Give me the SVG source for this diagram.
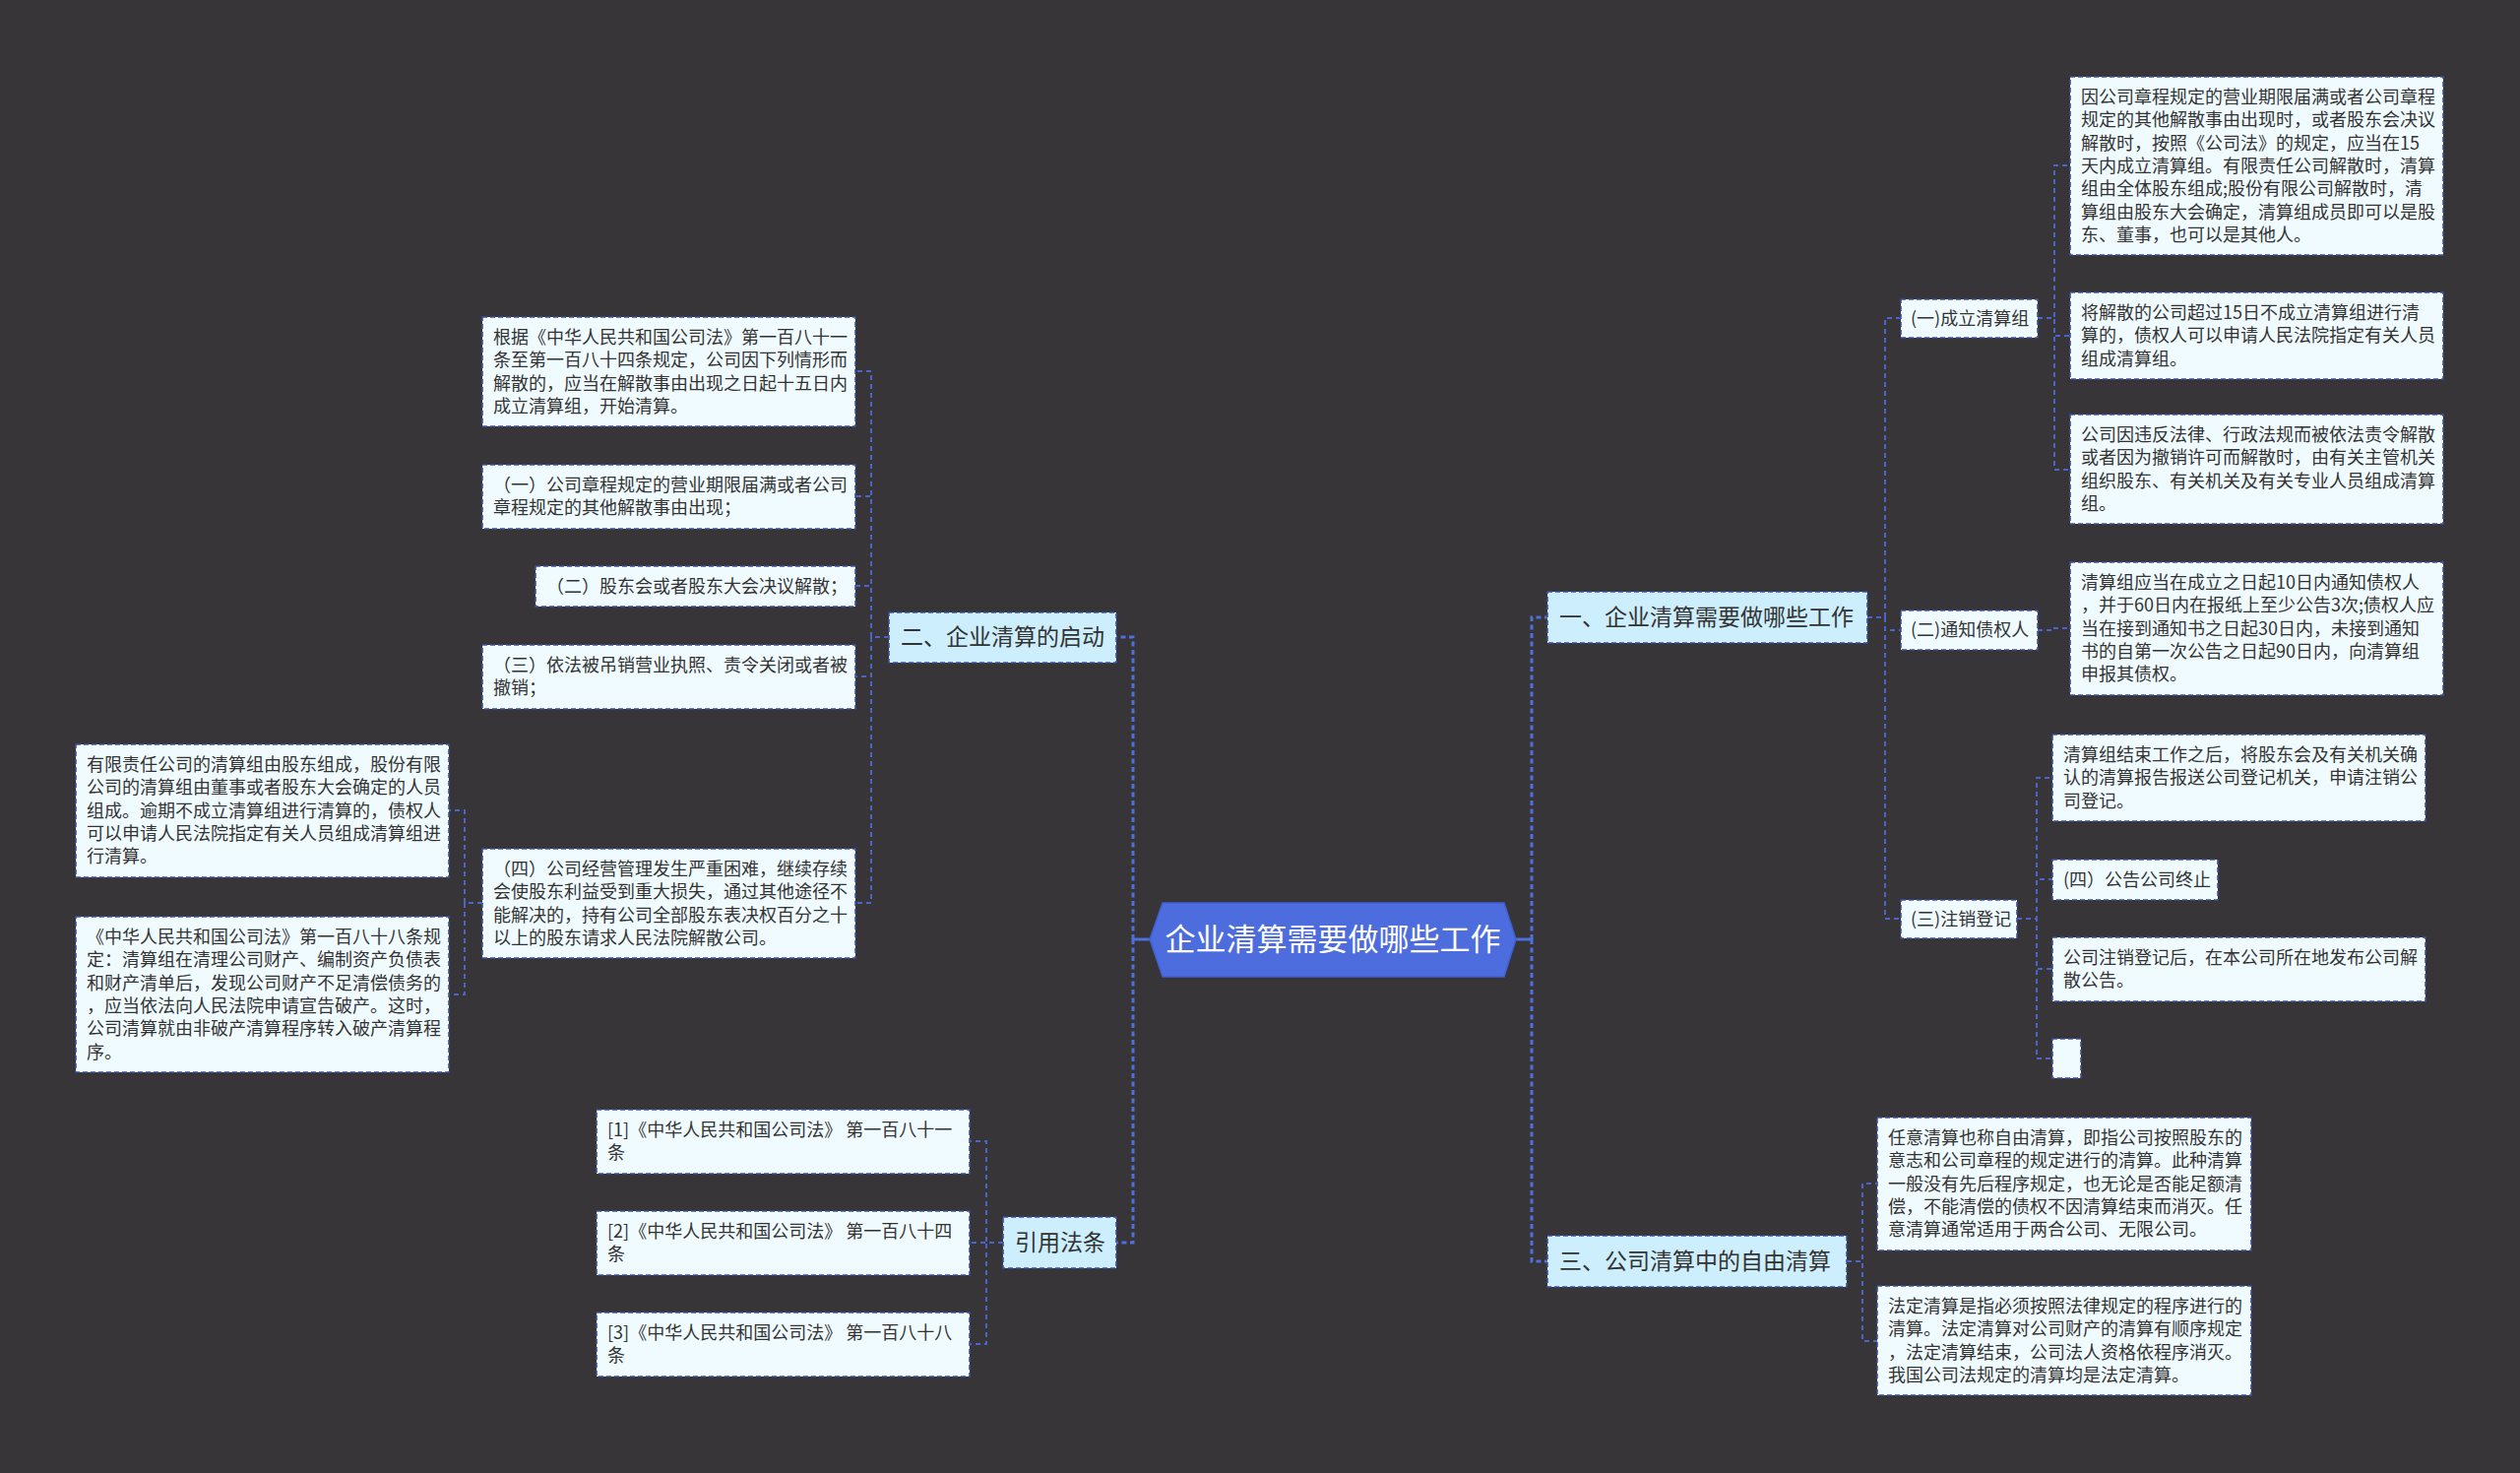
<svg xmlns="http://www.w3.org/2000/svg" width="2560" height="1496" viewBox="0 0 2560 1496">
<style>
.bg{fill:#373537}
.leaf{fill:#f0fbff;stroke:#3b4f9c;stroke-width:1.6;stroke-dasharray:5 3}
.l1{fill:#cdeefc;stroke:#3b4f9c;stroke-width:1.6;stroke-dasharray:5 3}
.c{fill:none;stroke:#4a64c8;stroke-width:2;stroke-dasharray:5 4}
.cm{fill:none;stroke:#4f70dc;stroke-width:3;stroke-dasharray:5 3.5}
text{font-family:"Noto Sans CJK SC","Noto Sans",sans-serif;fill:#333}
.t18{font-size:18px}
.t23{font-size:23px}
.tc{font-size:31px;fill:#ffffff}
</style>
<rect class="bg" x="0" y="0" width="2560" height="1496"/>

<g id="connectors">
<path d="M1540,954 H1556 M1168,954 H1151" stroke="#4f70dc" stroke-width="3" fill="none"/>
<path class="cm" d="M1556,954 V627 H1572"/>
<path class="cm" d="M1556,954 V1281 H1572"/>
<path class="cm" d="M1151,954 V647 H1134"/>
<path class="cm" d="M1151,954 V1262 H1134"/>
<path class="c" d="M1897,627 H1915 V323 H1931"/>
<path class="c" d="M1897,627 H1915 V640 H1931"/>
<path class="c" d="M1897,627 H1915 V933 H1931"/>
<path class="c" d="M2070,323 H2087 V168 H2103"/>
<path class="c" d="M2070,323 H2087 V341 H2103"/>
<path class="c" d="M2070,323 H2087 V477 H2103"/>
<path class="c" d="M2070,640 H2087 V638 H2103"/>
<path class="c" d="M2049,933 H2069 V790 H2085"/>
<path class="c" d="M2049,933 H2069 V893 H2085"/>
<path class="c" d="M2049,933 H2069 V984 H2085"/>
<path class="c" d="M2049,933 H2069 V1075 H2085"/>
<path class="c" d="M1876,1281 H1892 V1202 H1907"/>
<path class="c" d="M1876,1281 H1892 V1362 H1907"/>
<path class="c" d="M903,647 H885 V377 H869"/>
<path class="c" d="M903,647 H885 V504 H869"/>
<path class="c" d="M903,647 H885 V595 H869"/>
<path class="c" d="M903,647 H885 V687 H869"/>
<path class="c" d="M903,647 H885 V917 H869"/>
<path class="c" d="M490,917 H472 V823 H456"/>
<path class="c" d="M490,917 H472 V1010 H456"/>
<path class="c" d="M1019,1262 H1002 V1159 H985"/>
<path class="c" d="M1019,1262 H1002 V1262 H985"/>
<path class="c" d="M1019,1262 H1002 V1365 H985"/>
</g>

<g id="center">
<polygon points="1168,954 1181,917 1528,917 1540,954 1528,992 1181,992" fill="#4d6ddf" stroke="#3f5fd2" stroke-width="1.5"/>
<text class="tc" x="1354" y="965" text-anchor="middle">企业清算需要做哪些工作</text>
</g>

<g id="n1">
<rect class="l1" x="1572" y="601" width="325" height="52"/>
<text class="t23" x="1584" y="635">一、企业清算需要做哪些工作</text>
</g>
<g id="n3">
<rect class="l1" x="1572" y="1255" width="304" height="52"/>
<text class="t23" x="1584" y="1289">三、公司清算中的自由清算</text>
</g>
<g id="n2">
<rect class="l1" x="903" y="622" width="231" height="51"/>
<text class="t23" x="915" y="655">二、企业清算的启动</text>
</g>
<g id="n4">
<rect class="l1" x="1019" y="1236" width="115" height="52"/>
<text class="t23" x="1031" y="1270">引用法条</text>
</g>

<g id="a1">
<rect class="leaf" x="1931" y="304" width="139" height="39"/>
<text class="t18" x="1941" y="330">(一)成立清算组</text>
</g>
<g id="a2">
<rect class="leaf" x="1931" y="620" width="139" height="40"/>
<text class="t18" x="1941" y="646">(二)通知债权人</text>
</g>
<g id="a3">
<rect class="leaf" x="1931" y="914" width="118" height="39"/>
<text class="t18" x="1941" y="940">(三)注销登记</text>
</g>

<g id="a1-1">
<rect class="leaf" x="2103" y="78" width="379" height="181"/>
<text class="t18"><tspan x="2114" y="105">因公司章程规定的营业期限届满或者公司章程</tspan><tspan x="2114" y="128.3">规定的其他解散事由出现时，或者股东会决议</tspan><tspan x="2114" y="151.6">解散时，按照《公司法》的规定，应当在15</tspan><tspan x="2114" y="174.9">天内成立清算组。有限责任公司解散时，清算</tspan><tspan x="2114" y="198.2">组由全体股东组成;股份有限公司解散时，清</tspan><tspan x="2114" y="221.5">算组由股东大会确定，清算组成员即可以是股</tspan><tspan x="2114" y="244.8">东、董事，也可以是其他人。</tspan></text>
</g>
<g id="a1-2">
<rect class="leaf" x="2103" y="297" width="379" height="88"/>
<text class="t18"><tspan x="2114" y="324">将解散的公司超过15日不成立清算组进行清</tspan><tspan x="2114" y="347.3">算的，债权人可以申请人民法院指定有关人员</tspan><tspan x="2114" y="370.6">组成清算组。</tspan></text>
</g>
<g id="a1-3">
<rect class="leaf" x="2103" y="421" width="379" height="111"/>
<text class="t18"><tspan x="2114" y="448">公司因违反法律、行政法规而被依法责令解散</tspan><tspan x="2114" y="471.3">或者因为撤销许可而解散时，由有关主管机关</tspan><tspan x="2114" y="494.6">组织股东、有关机关及有关专业人员组成清算</tspan><tspan x="2114" y="517.9">组。</tspan></text>
</g>
<g id="a2-1">
<rect class="leaf" x="2103" y="571" width="379" height="135"/>
<text class="t18"><tspan x="2114" y="598">清算组应当在成立之日起10日内通知债权人</tspan><tspan x="2114" y="621.3">，并于60日内在报纸上至少公告3次;债权人应</tspan><tspan x="2114" y="644.6">当在接到通知书之日起30日内，未接到通知</tspan><tspan x="2114" y="667.9">书的自第一次公告之日起90日内，向清算组</tspan><tspan x="2114" y="691.2">申报其债权。</tspan></text>
</g>
<g id="a3-1">
<rect class="leaf" x="2085" y="746" width="379" height="88"/>
<text class="t18"><tspan x="2096" y="773">清算组结束工作之后，将股东会及有关机关确</tspan><tspan x="2096" y="796.3">认的清算报告报送公司登记机关，申请注销公</tspan><tspan x="2096" y="819.6">司登记。</tspan></text>
</g>
<g id="a3-2">
<rect class="leaf" x="2085" y="873" width="168" height="41"/>
<text class="t18" x="2096" y="900">(四）公告公司终止</text>
</g>
<g id="a3-3">
<rect class="leaf" x="2085" y="952" width="379" height="65"/>
<text class="t18"><tspan x="2096" y="979">公司注销登记后，在本公司所在地发布公司解</tspan><tspan x="2096" y="1002.3">散公告。</tspan></text>
</g>
<g id="a3-4">
<rect class="leaf" x="2085" y="1055" width="29" height="40"/>
</g>

<g id="c3-1">
<rect class="leaf" x="1907" y="1135" width="380" height="135"/>
<text class="t18"><tspan x="1918" y="1162">任意清算也称自由清算，即指公司按照股东的</tspan><tspan x="1918" y="1185.3">意志和公司章程的规定进行的清算。此种清算</tspan><tspan x="1918" y="1208.6">一般没有先后程序规定，也无论是否能足额清</tspan><tspan x="1918" y="1231.9">偿，不能清偿的债权不因清算结束而消灭。任</tspan><tspan x="1918" y="1255.2">意清算通常适用于两合公司、无限公司。</tspan></text>
</g>
<g id="c3-2">
<rect class="leaf" x="1907" y="1306" width="380" height="111"/>
<text class="t18"><tspan x="1918" y="1333">法定清算是指必须按照法律规定的程序进行的</tspan><tspan x="1918" y="1356.3">清算。法定清算对公司财产的清算有顺序规定</tspan><tspan x="1918" y="1379.6">，法定清算结束，公司法人资格依程序消灭。</tspan><tspan x="1918" y="1402.9">我国公司法规定的清算均是法定清算。</tspan></text>
</g>

<g id="b1">
<rect class="leaf" x="490" y="322" width="379" height="111"/>
<text class="t18"><tspan x="501" y="349">根据《中华人民共和国公司法》第一百八十一</tspan><tspan x="501" y="372.3">条至第一百八十四条规定，公司因下列情形而</tspan><tspan x="501" y="395.6">解散的，应当在解散事由出现之日起十五日内</tspan><tspan x="501" y="418.9">成立清算组，开始清算。</tspan></text>
</g>
<g id="b2">
<rect class="leaf" x="490" y="472" width="379" height="65"/>
<text class="t18"><tspan x="501" y="499">（一）公司章程规定的营业期限届满或者公司</tspan><tspan x="501" y="522.3">章程规定的其他解散事由出现；</tspan></text>
</g>
<g id="b3">
<rect class="leaf" x="544" y="575" width="325" height="41"/>
<text class="t18" x="555" y="602">（二）股东会或者股东大会决议解散；</text>
</g>
<g id="b4">
<rect class="leaf" x="490" y="655" width="379" height="65"/>
<text class="t18"><tspan x="501" y="682">（三）依法被吊销营业执照、责令关闭或者被</tspan><tspan x="501" y="705.3">撤销；</tspan></text>
</g>
<g id="b5">
<rect class="leaf" x="490" y="862" width="379" height="111"/>
<text class="t18"><tspan x="501" y="889">（四）公司经营管理发生严重困难，继续存续</tspan><tspan x="501" y="912.3">会使股东利益受到重大损失，通过其他途径不</tspan><tspan x="501" y="935.6">能解决的，持有公司全部股东表决权百分之十</tspan><tspan x="501" y="958.9">以上的股东请求人民法院解散公司。</tspan></text>
</g>
<g id="b5-1">
<rect class="leaf" x="77" y="756" width="379" height="135"/>
<text class="t18"><tspan x="88" y="783">有限责任公司的清算组由股东组成，股份有限</tspan><tspan x="88" y="806.3">公司的清算组由董事或者股东大会确定的人员</tspan><tspan x="88" y="829.6">组成。逾期不成立清算组进行清算的，债权人</tspan><tspan x="88" y="852.9">可以申请人民法院指定有关人员组成清算组进</tspan><tspan x="88" y="876.2">行清算。</tspan></text>
</g>
<g id="b5-2">
<rect class="leaf" x="77" y="931" width="379" height="158"/>
<text class="t18"><tspan x="88" y="958">《中华人民共和国公司法》第一百八十八条规</tspan><tspan x="88" y="981.3">定：清算组在清理公司财产、编制资产负债表</tspan><tspan x="88" y="1004.6">和财产清单后，发现公司财产不足清偿债务的</tspan><tspan x="88" y="1027.9">，应当依法向人民法院申请宣告破产。这时，</tspan><tspan x="88" y="1051.2">公司清算就由非破产清算程序转入破产清算程</tspan><tspan x="88" y="1074.5">序。</tspan></text>
</g>

<g id="d1">
<rect class="leaf" x="606" y="1127" width="379" height="65"/>
<text class="t18"><tspan x="617" y="1154">[1]《中华人民共和国公司法》 第一百八十一</tspan><tspan x="617" y="1177.3">条</tspan></text>
</g>
<g id="d2">
<rect class="leaf" x="606" y="1230" width="379" height="65"/>
<text class="t18"><tspan x="617" y="1257">[2]《中华人民共和国公司法》 第一百八十四</tspan><tspan x="617" y="1280.3">条</tspan></text>
</g>
<g id="d3">
<rect class="leaf" x="606" y="1333" width="379" height="65"/>
<text class="t18"><tspan x="617" y="1360">[3]《中华人民共和国公司法》 第一百八十八</tspan><tspan x="617" y="1383.3">条</tspan></text>
</g>
</svg>
